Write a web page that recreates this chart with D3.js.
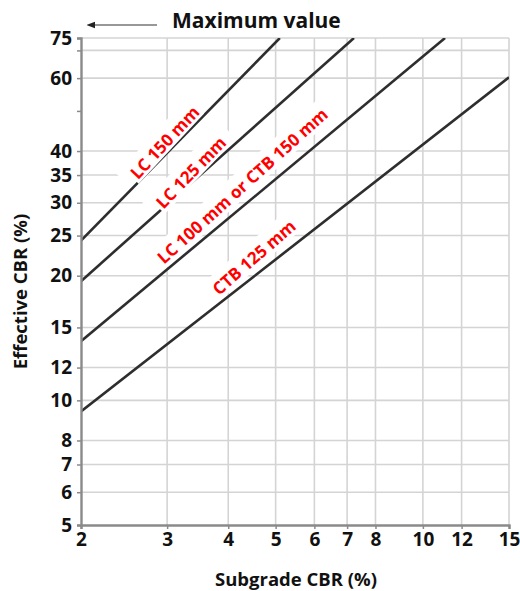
<!DOCTYPE html>
<html>
<head>
<meta charset="utf-8">
<script src="https://cdn.jsdelivr.net/npm/d3@7/dist/d3.min.js"></script>
<style>
  body { margin: 0; background: #fff; }
  text { font-family: "Open Sans", Lato, sans-serif; font-weight: bold; }
</style>
</head>
<body>
<div id="chart"></div>
<script>
// tick values
var xTicks = [2, 3, 4, 5, 6, 7, 8, 10, 12, 15];
var yTicks = [5, 6, 7, 8, 10, 12, 15, 20, 25, 30, 35, 40, 60, 75];
var yMinor = [50, 70];
var yGrid = [6, 7, 8, 10, 12, 15, 20, 25, 30, 35, 40, 60, 70];

// design lines (start / end of each straight line on the log-log chart)
var seriesNames = ["LC 150 mm", "LC 125 mm", "LC 100 mm or CTB 150 mm", "CTB 125 mm"];
var subgradeCBR = [[2, 5.1], [2, 7.23], [2, 11.1], [2, 15]];
var effectiveCBR = [[24.3, 75], [19.4, 75], [13.9, 75], [9.4, 60.3]];
// subgrade CBR where each label sits along its line
var labelAtX = [3.06, 3.45, 4.5, 4.73];

var width = 520, height = 591;
var margin = {left: 81, right: 11, top: 38, bottom: 66};

var svg = d3.select("#chart").append("svg")
    .attr("width", width)
    .attr("height", height);

var x = d3.scaleLog().domain([2, 15]).range([margin.left, width - margin.right]);
var y = d3.scaleLog().domain([5, 75]).range([height - margin.bottom, margin.top]);

// grid
var grid = svg.append("g").attr("stroke", "#d4d4d4").attr("stroke-width", 1.6);
grid.selectAll("line.h").data(yGrid.concat([75])).enter().append("line")
    .attr("x1", x(2)).attr("x2", x(15))
    .attr("y1", d => y(d)).attr("y2", d => y(d));
grid.selectAll("line.v").data(xTicks.slice(1)).enter().append("line")
    .attr("x1", d => x(d)).attr("x2", d => x(d))
    .attr("y1", y(5)).attr("y2", y(75));

// label geometry helpers
var labelStyle = [
    {angle: 47, offset: 9},
    {angle: 46, offset: 8},
    {angle: 42, offset: 16},
    {angle: 41, offset: 15}
];
function lineAt(i, xv) {
    var xs = subgradeCBR[i], ys = effectiveCBR[i];
    var t = Math.log(xv / xs[0]) / Math.log(xs[1] / xs[0]);
    return ys[0] * Math.pow(ys[1] / ys[0], t);
}
function labelPos(i) {
    var xv = labelAtX[i];
    var px = x(xv), py = y(lineAt(i, xv));
    var a = labelStyle[i].angle * Math.PI / 180;
    var d = labelStyle[i].offset;
    return [px - d * Math.sin(a), py - d * Math.cos(a)];
}

// wide white patches under the lines (hide grid behind labels)
var halo = svg.append("g");
var lines = svg.append("g");
var boxes = svg.append("g");
var labels = svg.append("g");

svg.append("defs").append("clipPath").attr("id", "plot")
    .append("rect")
    .attr("x", x(2)).attr("y", y(75))
    .attr("width", x(15) - x(2)).attr("height", y(5) - y(75));

var line = d3.line().x(d => x(d[0])).y(d => y(d[1]));
seriesNames.forEach(function (name, i) {
    var pts = d3.zip(subgradeCBR[i], effectiveCBR[i]);
    lines.append("path")
        .attr("d", line(pts))
        .attr("fill", "none")
        .attr("stroke", "#2e2e2e")
        .attr("stroke-width", 2.6)
        .attr("clip-path", "url(#plot)");

    var p = labelPos(i);
    var g = labels.append("g")
        .attr("transform", "translate(" + p[0] + "," + p[1] + ") rotate(" + (-labelStyle[i].angle) + ")");
    var t = g.append("text")
        .attr("text-anchor", "middle")
        .attr("dy", "0.36em")
        .attr("fill", "#ff0000")
        .attr("font-size", 17)
        .text(name);
    var w = t.node().getComputedTextLength();
    halo.append("rect")
        .attr("transform", "translate(" + p[0] + "," + p[1] + ") rotate(" + (-labelStyle[i].angle) + ")")
        .attr("x", -w / 2 - 10).attr("y", -14).attr("width", w + 20).attr("height", 24)
        .attr("fill", "#fff");
    boxes.append("rect")
        .attr("transform", "translate(" + p[0] + "," + p[1] + ") rotate(" + (-labelStyle[i].angle) + ")")
        .attr("x", -w / 2 - 2).attr("y", -9).attr("width", w + 4).attr("height", 18)
        .attr("fill", "#fff");
});

// axes
var yAxis = d3.axisLeft(y)
    .tickValues(yTicks.concat(yMinor))
    .tickFormat(d => yTicks.indexOf(d) >= 0 ? d : "")
    .tickSize(4).tickPadding(5);
var xAxis = d3.axisBottom(x)
    .tickValues(xTicks)
    .tickFormat(d3.format("d"))
    .tickSize(4).tickPadding(4);

var ya = svg.append("g").attr("transform", "translate(" + x(2) + ",0)").call(yAxis);
var xa = svg.append("g").attr("transform", "translate(0," + y(5) + ")").call(xAxis);
[ya, xa].forEach(function (a) {
    a.select(".domain").attr("stroke", "#8a8a8a").attr("stroke-width", 2.4);
    a.selectAll(".tick line").attr("stroke", "#8a8a8a").attr("stroke-width", 1.5);
    a.selectAll(".tick text").attr("fill", "#111").attr("font-size", 19)
        .attr("font-family", "'Open Sans', sans-serif").attr("font-weight", "bold");
});

// axis titles
svg.append("text")
    .attr("x", (x(2) + x(15)) / 2 + 1).attr("y", 586)
    .attr("text-anchor", "middle")
    .attr("font-size", 18.5)
    .attr("fill", "#111")
    .text("Subgrade CBR (%)");
svg.append("text")
    .attr("transform", "translate(27," + ((y(5) + y(75)) / 2 + 10) + ") rotate(-90)")
    .attr("text-anchor", "middle")
    .attr("font-size", 18.5)
    .attr("fill", "#111")
    .text("Effective CBR (%)");

// "Maximum value" note with arrow
svg.append("defs").append("marker")
    .attr("id", "arrow")
    .attr("viewBox", "0 -5 10 10")
    .attr("refX", 0).attr("refY", 0)
    .attr("markerWidth", 7).attr("markerHeight", 7)
    .attr("orient", "auto-start-reverse")
    .append("path").attr("d", "M0,-4L10,0L0,4Z").attr("fill", "#222");
svg.append("line")
    .attr("x1", 157).attr("x2", 95)
    .attr("y1", 25).attr("y2", 25)
    .attr("stroke", "#333").attr("stroke-width", 1.2)
    .attr("marker-end", "url(#arrow)");
svg.append("text")
    .attr("x", 172).attr("y", 28)
    .attr("font-size", 21)
    .attr("fill", "#111")
    .text("Maximum value");
</script>
</body>
</html>
